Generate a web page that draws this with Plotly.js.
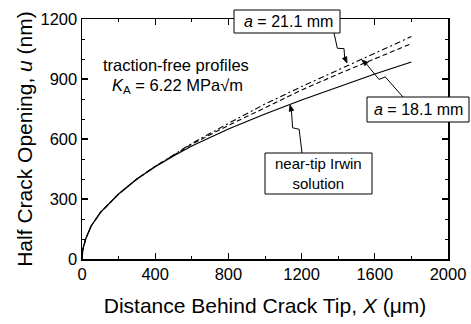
<!DOCTYPE html>
<html>
<head>
<meta charset="utf-8">
<script src="https://cdn.plot.ly/plotly-3.0.1.min.js"></script>
<style>html,body{margin:0;padding:0;background:#fff}#chart{width:471px;height:324px}</style>
</head>
<body>
<div id="chart"></div>
<script>
// Distance behind crack tip X (µm)
const distanceX = [0, 5, 20, 50, 100, 200, 300, 400, 500, 600, 800, 1000, 1200, 1400, 1600, 1800];
// Near-tip Irwin solution u (nm)
const irwinU   = [0, 50, 100, 165, 232, 325, 400, 462, 515, 565, 650, 725, 795, 860, 925, 985];
// Traction-free profile, a = 21.1 mm
const a211U    = [0, 50, 100, 165, 232, 325, 400, 463, 520, 578, 678, 775, 862, 945, 1030, 1112];
// Traction-free profile, a = 18.1 mm
const a181U    = [0, 50, 100, 165, 232, 325, 400, 463, 518, 574, 668, 758, 845, 925, 1002, 1077];

const xTicks = [0, 400, 800, 1200, 1600, 2000];
const yTicks = [0, 300, 600, 900, 1200];

const FONT = 'Arial, "Liberation Sans", sans-serif';
const W = 471, H = 324;
const mL = 82, mR = 23, mT = 19, mB = 65;
const pw = W - mL - mR, ph = H - mT - mB;
const px = x => (x - mL) / pw;
const py = y => (H - mB - y) / ph;

const traces = [
  {x: distanceX, y: irwinU, mode: 'lines', line: {color: '#000', width: 1.3}, name: 'Irwin'},
  {x: distanceX, y: a211U, mode: 'lines', line: {color: '#000', width: 1.1, dash: '6px,3px,2px,3px'}, name: 'a = 21.1 mm'},
  {x: distanceX, y: a181U, mode: 'lines', line: {color: '#000', width: 1.1, dash: '5px,3px'}, name: 'a = 18.1 mm'}
];

const shapes = [];
const annotations = [];

function box(x0, y0, x1, y1) {
  shapes.push({type: 'rect', xref: 'paper', yref: 'paper', x0: px(x0), x1: px(x1), y0: py(y1), y1: py(y0),
    line: {color: '#000', width: 1}, fillcolor: '#fff', layer: 'above'});
}
function label(x, y, text, size) {
  annotations.push({xref: 'paper', yref: 'paper', x: px(x), y: py(y), text: text, showarrow: false,
    xanchor: 'center', yanchor: 'middle', font: {family: FONT, size: size, color: '#000'}});
}
function toPath(pts, close) {
  return pts.map((p, i) => (i ? 'L' : 'M') + px(p[0]) + ',' + py(p[1])).join(' ') + (close ? ' Z' : '');
}
function zigArrow(A, B) {
  const dx = B[0] - A[0], dy = B[1] - A[1];
  const len = Math.hypot(dx, dy);
  const d = [dx / len, dy / len], n = [-d[1], d[0]];
  const M = [A[0] + dx * 0.5, A[1] + dy * 0.5];
  const M1 = [M[0] + 3 * n[0] - 1 * d[0], M[1] + 3 * n[1] - 1 * d[1]];
  const M2 = [M[0] - 3 * n[0] + 2 * d[0], M[1] - 3 * n[1] + 2 * d[1]];
  const base = [B[0] - 6 * d[0], B[1] - 6 * d[1]];
  shapes.push({type: 'path', xref: 'paper', yref: 'paper', path: toPath([A, M1, M2, base]),
    line: {color: '#000', width: 1}, layer: 'above'});
  const h1 = [base[0] + 2.3 * n[0], base[1] + 2.3 * n[1]];
  const h2 = [base[0] - 2.3 * n[0], base[1] - 2.3 * n[1]];
  shapes.push({type: 'path', xref: 'paper', yref: 'paper', path: toPath([B, h1, h2], true),
    line: {color: '#000', width: 0.8}, fillcolor: '#000', layer: 'above'});
}

zigArrow([334, 33], [347, 63]);
zigArrow([403, 97], [362, 60]);
zigArrow([302, 153], [290, 105]);

box(234, 10, 340, 33);
box(367, 97, 469, 122);
box(265, 153, 372, 194);

label(288, 21.5, '<i>a</i> = 21.1 mm', 16);
label(418, 109.5, '<i>a</i> = 18.1 mm', 16);
label(318.5, 173.5, 'near-tip Irwin<br>solution', 15);
label(176, 65, 'traction-free profiles', 16.5);
label(177, 86, '<i>K</i><sub>A</sub> = 6.22 MPa√m', 16.5);

const axisCommon = {
  showline: true, linecolor: '#000', linewidth: 1.5, mirror: 'ticks',
  ticks: 'inside', ticklen: 6, tickwidth: 1.3, tickcolor: '#000',
  showgrid: false, zeroline: false,
  tickfont: {family: FONT, size: 16.5, color: '#000'}
};

const layout = {
  width: W, height: H,
  margin: {l: mL, r: mR, t: mT, b: mB},
  paper_bgcolor: '#fff', plot_bgcolor: '#fff',
  showlegend: false,
  font: {family: FONT, color: '#000'},
  xaxis: Object.assign({}, axisCommon, {
    range: [0, 2000], tickvals: xTicks, ticktext: xTicks.map(String),
    minor: {dtick: 200, tick0: 0, ticks: 'inside', ticklen: 3, tickcolor: '#000', tickwidth: 1},
    title: {text: 'Distance Behind Crack Tip, <i>X</i> (μm)', font: {family: FONT, size: 21, color: '#000'}, standoff: 16}
  }),
  yaxis: Object.assign({}, axisCommon, {
    range: [0, 1200], tickvals: yTicks, ticktext: yTicks.map(String),
    minor: {dtick: 100, tick0: 0, ticks: 'inside', ticklen: 3, tickcolor: '#000', tickwidth: 1},
    title: {text: 'Half Crack Opening, <i>u</i> (nm)', font: {family: FONT, size: 21, color: '#000'}, standoff: 2}
  }),
  shapes: shapes,
  annotations: annotations
};

Plotly.newPlot('chart', traces, layout, {staticPlot: true, displayModeBar: false});
</script>
</body>
</html>
